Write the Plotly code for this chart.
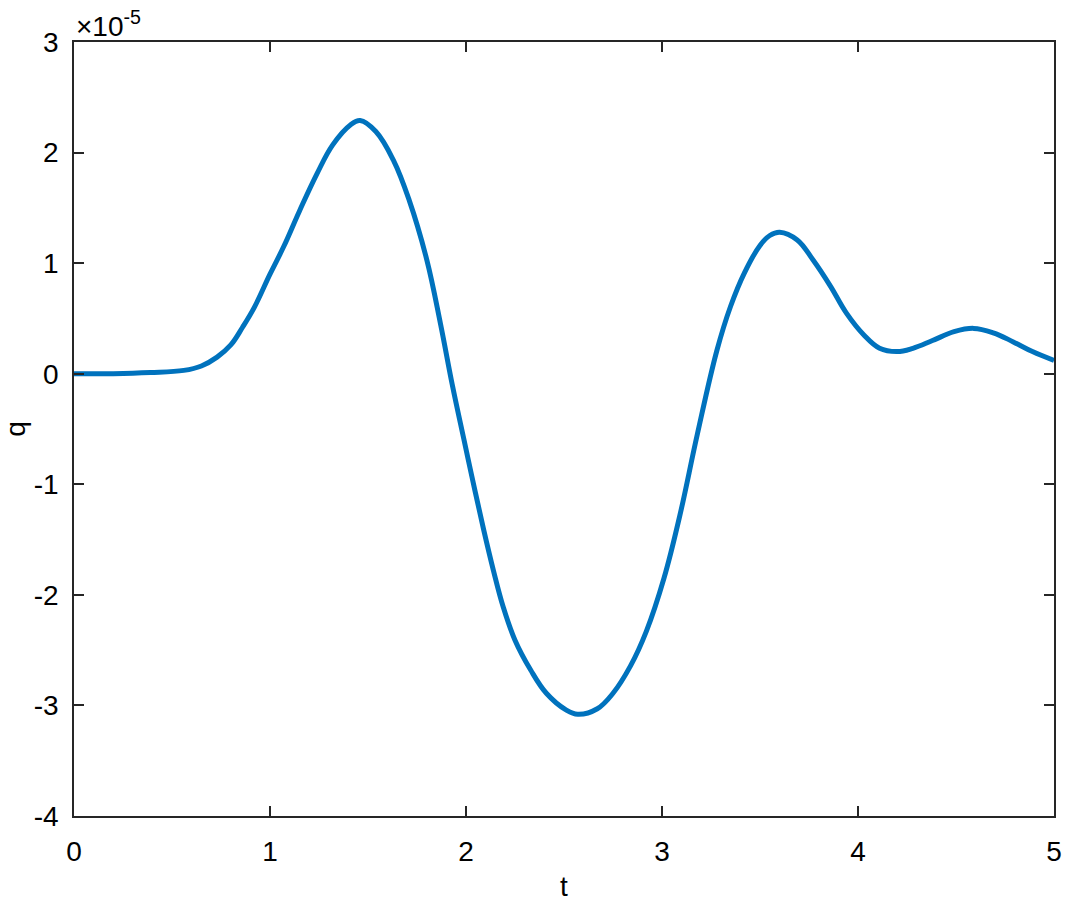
import plotly.graph_objects as go

# values (q in units of 1e-5)
t = [0.0, 0.2, 0.39, 0.56, 0.65, 0.73, 0.80, 0.86, 0.92, 1.0, 1.07, 1.15, 1.24,
     1.32, 1.41, 1.46, 1.54, 1.63, 1.71, 1.80, 1.87, 1.93, 1.99, 2.03, 2.09, 2.14,
     2.19, 2.25, 2.33, 2.41, 2.51, 2.57, 2.67, 2.75, 2.84, 2.92, 3.01, 3.09, 3.18,
     3.28, 3.35, 3.42, 3.50, 3.55, 3.60, 3.69, 3.77, 3.86, 3.94, 4.03, 4.11, 4.20,
     4.28, 4.38, 4.49, 4.59, 4.69, 4.79, 4.89, 5.0]
q = [0.0, 0.0, 0.01, 0.03, 0.07, 0.15, 0.26, 0.42, 0.60, 0.90, 1.15, 1.47, 1.81,
     2.07, 2.25, 2.29, 2.19, 1.93, 1.57, 1.03, 0.45, -0.1, -0.6, -0.93, -1.41, -1.78,
     -2.11, -2.41, -2.68, -2.89, -3.04, -3.08, -3.03, -2.89, -2.64, -2.33, -1.85, -1.29, -0.55,
     0.21, 0.61, 0.91, 1.16, 1.25, 1.28, 1.21, 1.03, 0.79, 0.55, 0.35, 0.23, 0.2,
     0.23, 0.3, 0.38, 0.41, 0.37, 0.29, 0.2, 0.12]
scale = 1e-5
y_ticks = [-4, -3, -2, -1, 0, 1, 2, 3]
x_ticks = [0, 1, 2, 3, 4, 5]

font = "Liberation Sans"
axcol = "#262626"

fig = go.Figure()
fig.add_trace(go.Scatter(
    x=t, y=[v * scale for v in q], mode="lines",
    line=dict(color="#0072BD", width=5, shape="spline", smoothing=1.1),
    showlegend=False,
))

axis_common = dict(
    showgrid=False, zeroline=False, showline=True, linecolor=axcol, linewidth=1.5,
    mirror="ticks", ticks="inside", ticklen=10, tickwidth=1.5, tickcolor=axcol,
    tickfont=dict(family=font, size=28, color="black"), automargin=False,
)
fig.update_xaxes(
    range=[0, 5], tickvals=x_ticks, ticktext=[str(v) for v in x_ticks],
    ticklabelstandoff=10,
    title=dict(text="t", font=dict(family=font, size=28, color="black"), standoff=10),
    **axis_common,
)
fig.update_yaxes(
    range=[-4 * scale, 3 * scale], tickvals=[v * scale for v in y_ticks],
    ticktext=[str(v) for v in y_ticks], ticklabelstandoff=8,
    title=dict(text="q", font=dict(family=font, size=28, color="black"), standoff=12),
    **axis_common,
)
fig.add_annotation(
    x=0, y=1, xref="paper", yref="paper", xanchor="left", yanchor="bottom",
    text="\u00d710<sup>-5</sup>", showarrow=False, xshift=0, yshift=-2,
    font=dict(family=font, size=28, color="black"),
)
fig.update_layout(
    width=1065, height=907, plot_bgcolor="white", paper_bgcolor="white",
    margin=dict(l=74, r=11, t=42, b=91),
)
fig.write_html("out.html", config={"displayModeBar": False},
               post_script="document.body.style.margin='0';")
